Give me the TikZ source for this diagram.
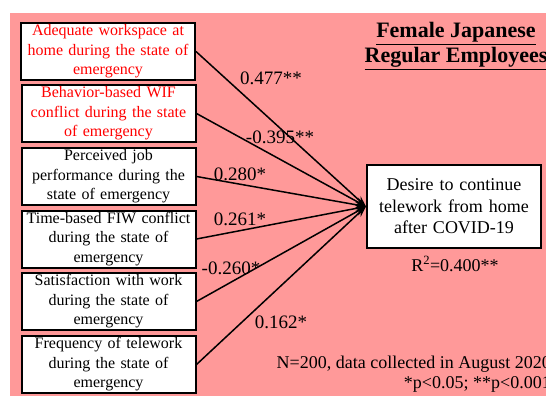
\documentclass[tikz,border=0pt]{standalone}
\usepackage{fontspec}
\setmainfont{Liberation Serif}
\usetikzlibrary{arrows.meta}
\definecolor{bgpink}{RGB}{255,153,153}
\definecolor{srcred}{RGB}{255,0,0}
\begin{document}
\begin{tikzpicture}[x=1pt,y=-1pt,
  srcbox/.style={draw=black, line width=2pt, fill=white, minimum width=174pt,
    minimum height=57pt, inner sep=0pt, align=center, text width=172pt,
    font=\fontsize{16}{19.5}\selectfont},
  redtext/.style={text=srcred},
  tgtbox/.style={draw=black, line width=2pt, fill=white, minimum width=174pt,
    minimum height=83pt, inner sep=0pt, align=center, text width=172pt,
    font=\fontsize{18}{21.5}\selectfont},
  conn/.style={draw=black, line width=1.5pt, -{Stealth[length=11pt,width=8pt]}},
  coef/.style={font=\fontsize{19}{22}\selectfont, inner sep=0pt},
  note/.style={font=\fontsize{18}{20}\selectfont, inner sep=0pt}]
\useasboundingbox (0,0) rectangle (546,396);
\clip (0,0) rectangle (546,396);
\fill[bgpink] (10,13) rectangle (560,400);

\node[srcbox, redtext] (b1) at (108,51.5) {Adequate workspace at\\home during the state of\\emergency};
\node[srcbox, redtext] (b2) at (108.5,113.5) {Behavior-based WIF\\conflict during the state\\of emergency};
\node[srcbox] (b3) at (108.5,176.5) {Perceived job\\performance during the\\state of emergency};
\node[srcbox] (b4) at (108.5,239) {Time-based FIW conflict\\during the state of\\emergency};
\node[srcbox] (b5) at (108.5,301.5) {Satisfaction with work\\during the state of\\emergency};
\node[srcbox] (b6) at (108.5,364.5) {Frequency of telework\\during the state of\\emergency};

\node[tgtbox] (t) at (454,206.5) {Desire to continue\\telework from home\\after COVID-19};

\draw[conn] (b1.east) -- (t.west);
\draw[conn] (b2.east) -- (t.west);
\draw[conn] (b3.east) -- (t.west);
\draw[conn] (b4.east) -- (t.west);
\draw[conn] (b5.east) -- (t.west);
\draw[conn] (b6.east) -- (t.west);

\node[coef] (c1) at (271,78) {0.477**};
\node[coef] (c2) at (280,137) {-0.395**};
\node[coef] (c3) at (240,174) {0.280*};
\node[coef] (c4) at (240,219) {0.261*};
\node[coef] (c5) at (231,268) {-0.260*};
\node[coef] (c6) at (281,322) {0.162*};

\node[note] (r2) at (455,264) {R\textsuperscript{2}=0.400**};

\node[font=\fontsize{22}{25}\selectfont\bfseries, align=center, inner sep=0pt] (title) at (456,46)
  {\underline{Female Japanese}\\\underline{Regular Employees}};

\node[note, align=right, anchor=east] (n) at (551,374)
  {N=200, data collected in August 2020\\*p<0.05; **p<0.001};
\end{tikzpicture}
\end{document}
